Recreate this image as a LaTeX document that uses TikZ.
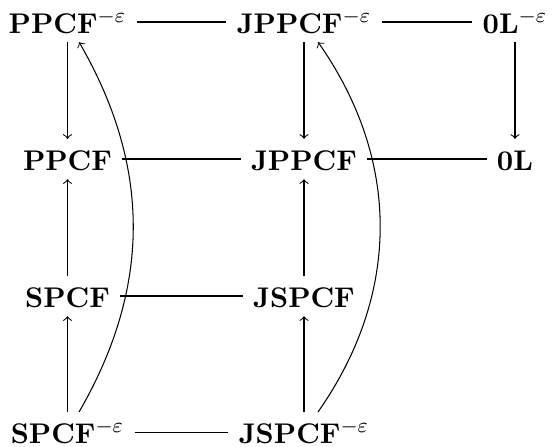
\documentclass[tikz,border=0pt]{standalone}
\begin{document}
\begin{tikzpicture}[x=0.385pt,y=-0.385pt,
  cell/.style={inner xsep=4pt,inner ysep=3.5pt,outer sep=0pt,text height=8.5pt,text depth=0pt,font=\fontsize{10.95}{13}\selectfont\bfseries},
  link/.style={line width=0.4pt},
  arr/.style={->,line width=0.4pt}]
\useasboundingbox (0,0) rectangle (555,446);
\foreach \n/\x/\y/\t in {ppe/67.5/22/{PPCF$^{-\varepsilon}$},jppe/304/22/{JPPCF$^{-\varepsilon}$},zle/515/22/{0L$^{-\varepsilon}$},
  pp/67.5/159/{PPCF},jpp/304/159/{JPPCF},zl/515/159/{0L},
  sp/67.5/296/{SPCF},jsp/304/296/{JSPCF},
  spe/67.5/432/{SPCF$^{-\varepsilon}$},jspe/304/432/{JSPCF$^{-\varepsilon}$}}
  \node[cell] (\n) at (\x,\y) {\t};
\foreach \a/\b in {ppe/jppe,jppe/zle,pp/jpp,jpp/zl,sp/jsp,spe/jspe}{\draw[link] (\a) -- (\b);}
\foreach \a/\b in {ppe/pp,jppe/jpp,zle/zl,sp/pp,jsp/jpp,spe/sp,jspe/jsp}{\draw[arr] (\a) -- (\b);}
\draw[arr] (spe) to[bend right=30] (ppe);
\draw[arr] (jspe) to[bend right=35] (jppe);
\end{tikzpicture}
\end{document}
